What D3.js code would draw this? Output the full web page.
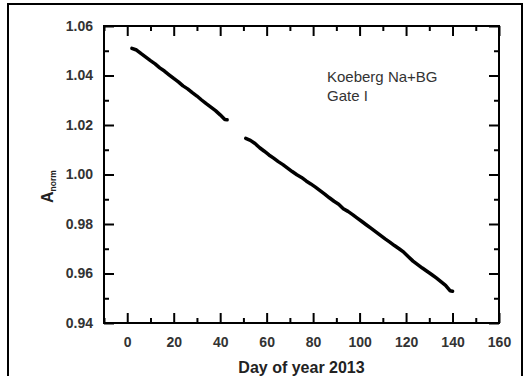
<!DOCTYPE html>
<html>
<head>
<meta charset="utf-8">
<script src="https://cdn.jsdelivr.net/npm/d3@7"></script>
<style>
  body { margin: 0; background: #fff; }
  text { font-family: "Liberation Sans", Arial, sans-serif; }
</style>
</head>
<body>
<script>
const width = 529
const height = 376

// data
const days1 = [2, 4, 6, 8, 10, 12, 14, 16, 18, 20, 22, 24, 26, 28, 30, 32, 34, 36, 38, 40, 42, 43]
const vals1 = [1.0510, 1.0503, 1.0488, 1.0474, 1.0460, 1.0447, 1.0431, 1.0418, 1.0403, 1.0388, 1.0374,
               1.0358, 1.0346, 1.0331, 1.0317, 1.0301, 1.0286, 1.0272, 1.0258, 1.0241, 1.0222, 1.0221]
const days2 = [51, 53, 55, 57, 59, 61, 63, 65, 67, 69, 71, 73, 75, 77, 79, 81, 83, 85, 87, 89, 91, 93, 95,
               97, 99, 101, 103, 105, 107, 109, 111, 113, 115, 117, 119, 121, 123, 125, 127, 129, 131,
               133, 135, 137, 139, 140]
const vals2 = [1.0146, 1.0138, 1.0125, 1.0108, 1.0094, 1.0079, 1.0066, 1.0052, 1.0040, 1.0026, 1.0012,
               0.9999, 0.9988, 0.9974, 0.9962, 0.9949, 0.9935, 0.9921, 0.9906, 0.9892, 0.9880, 0.9862,
               0.9851, 0.9838, 0.9824, 0.9810, 0.9796, 0.9782, 0.9768, 0.9754, 0.9740, 0.9727, 0.9713,
               0.9700, 0.9686, 0.9668, 0.9650, 0.9636, 0.9622, 0.9609, 0.9596, 0.9582, 0.9567, 0.9552,
               0.9530, 0.9528]
const xTicks = [0, 20, 40, 60, 80, 100, 120, 140, 160]
const xMinor = [-10, 10, 30, 50, 70, 90, 110, 130, 150]
const yTicks = [0.94, 0.96, 0.98, 1.00, 1.02, 1.04, 1.06]
const yMinor = [0.95, 0.97, 0.99, 1.01, 1.03, 1.05]

const plotLeft = 104, plotRight = 499, plotTop = 26, plotBottom = 323

const svg = d3.select('body').append('svg')
        .attr('width', width)
        .attr('height', height)

// outer frame
svg.append('rect')
        .attr('x', 8).attr('y', 4)
        .attr('width', 514).attr('height', 380)
        .attr('fill', 'none')
        .attr('stroke', '#000')
        .attr('stroke-width', 2)

const xScale = d3.scaleLinear().domain([-10, 160]).range([plotLeft, plotRight])
const yScale = d3.scaleLinear().domain([0.94, 1.06]).range([plotBottom, plotTop])

const styleAxis = (g) => {
    g.select('.domain').remove()
    g.selectAll('line').attr('stroke', '#000').attr('stroke-width', 2)
}
const styleLabels = (g) => g.selectAll('text')
        .attr('fill', '#333').attr('font-size', 14).attr('font-weight', 'bold')
        .attr('font-family', '"Liberation Sans", Arial, sans-serif')

// bottom axis with labels, ticks pointing inside
svg.append('g')
        .attr('transform', 'translate(0,' + plotBottom + ')')
        .call(d3.axisBottom(xScale).tickValues(xTicks).tickSize(-10).tickPadding(14).tickFormat(d3.format('d')))
        .call(styleAxis)
        .call(styleLabels)
svg.append('g')
        .attr('transform', 'translate(0,' + plotBottom + ')')
        .call(d3.axisBottom(xScale).tickValues(xMinor).tickSize(-5).tickFormat(''))
        .call(styleAxis)

// top axis
svg.append('g')
        .attr('transform', 'translate(0,' + plotTop + ')')
        .call(d3.axisTop(xScale).tickValues(xTicks).tickSize(-10).tickFormat(''))
        .call(styleAxis)
svg.append('g')
        .attr('transform', 'translate(0,' + plotTop + ')')
        .call(d3.axisTop(xScale).tickValues(xMinor).tickSize(-5).tickFormat(''))
        .call(styleAxis)

// left axis with labels
svg.append('g')
        .attr('transform', 'translate(' + plotLeft + ',0)')
        .call(d3.axisLeft(yScale).tickValues(yTicks).tickSize(-10).tickPadding(11).tickFormat(d3.format('.2f')))
        .call(styleAxis)
        .call(styleLabels)
svg.append('g')
        .attr('transform', 'translate(' + plotLeft + ',0)')
        .call(d3.axisLeft(yScale).tickValues(yMinor).tickSize(-5).tickFormat(''))
        .call(styleAxis)

// right axis
svg.append('g')
        .attr('transform', 'translate(' + plotRight + ',0)')
        .call(d3.axisRight(yScale).tickValues(yTicks).tickSize(-10).tickFormat(''))
        .call(styleAxis)
svg.append('g')
        .attr('transform', 'translate(' + plotRight + ',0)')
        .call(d3.axisRight(yScale).tickValues(yMinor).tickSize(-5).tickFormat(''))
        .call(styleAxis)

// plot frame
svg.append('rect')
        .attr('x', plotLeft).attr('y', plotTop)
        .attr('width', plotRight - plotLeft).attr('height', plotBottom - plotTop)
        .attr('fill', 'none')
        .attr('stroke', '#000')
        .attr('stroke-width', 2)

// data lines
const line = d3.line().x(d => xScale(d[0])).y(d => yScale(d[1]))
const seg1 = days1.map((d, i) => [d, vals1[i]])
const seg2 = days2.map((d, i) => [d, vals2[i]])

svg.selectAll('path.series')
        .data([seg1, seg2])
        .join('path')
        .attr('class', 'series')
        .attr('d', line)
        .attr('fill', 'none')
        .attr('stroke', '#000')
        .attr('stroke-width', 3.5)
        .attr('stroke-linecap', 'round')
        .attr('stroke-linejoin', 'round')

// axis titles
svg.append('text')
        .attr('x', (plotLeft + plotRight) / 2)
        .attr('y', 373)
        .attr('text-anchor', 'middle')
        .attr('font-size', 16)
        .attr('font-weight', 'bold')
        .attr('fill', '#222')
        .text('Day of year 2013')

const yLabel = svg.append('text')
        .attr('transform', 'translate(53,203) rotate(-90)')
        .attr('font-weight', 'bold')
        .attr('fill', '#222')
yLabel.append('tspan').attr('font-size', 16).text('A')
yLabel.append('tspan').attr('font-size', 8.5).attr('dy', 3).text('norm')

// annotation
svg.append('text')
        .attr('x', 327).attr('y', 82)
        .attr('font-size', 15)
        .attr('fill', '#333')
        .text('Koeberg Na+BG')
svg.append('text')
        .attr('x', 327).attr('y', 101)
        .attr('font-size', 15)
        .attr('fill', '#333')
        .text('Gate I')
</script>
</body>
</html>
